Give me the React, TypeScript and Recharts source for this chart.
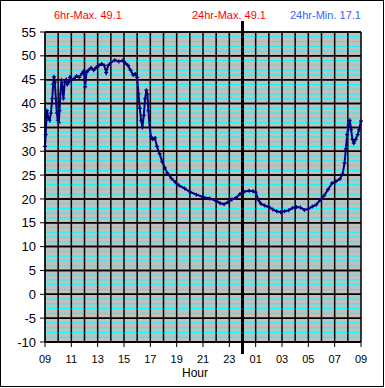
import { ComposedChart, Line, XAxis, YAxis, CartesianGrid, ReferenceLine } from 'recharts'

// hours since 09:00
const hours = [
  0, 0.05, 0.1, 0.15, 0.25, 0.35, 0.45, 0.55, 0.62, 0.68, 0.75, 0.82, 0.9, 0.97, 1.05, 1.1, 1.17, 1.25, 1.32, 1.4,
  1.5, 1.6, 1.7, 1.8, 1.9, 2.0, 2.2, 2.4, 2.6, 2.8, 2.95, 3.05, 3.15, 3.3, 3.5, 3.7, 3.9, 4.1, 4.3, 4.5,
  4.65, 4.8, 5.0, 5.3, 5.6, 5.9, 6.1, 6.3, 6.5, 6.7, 6.85, 7.0, 7.1, 7.2, 7.3, 7.4, 7.5, 7.6, 7.7, 7.78,
  7.85, 7.95, 8.05, 8.2, 8.35, 8.5, 8.7, 8.9, 9.1, 9.3, 9.6, 9.9, 10.2, 10.6, 11.0, 11.5, 12.0, 12.5, 13.0, 13.3,
  13.6, 13.9, 14.2, 14.5, 14.8, 15.1, 15.5, 15.8, 16.0, 16.2, 16.4, 16.7, 17.0, 17.3, 17.6, 17.9, 18.2, 18.5, 18.8, 19.1,
  19.4, 19.7, 20.0, 20.3, 20.6, 20.9, 21.2, 21.5, 21.8, 22.1, 22.4, 22.6, 22.75, 22.85, 22.95, 23.05, 23.15, 23.25, 23.35, 23.45,
  23.6, 23.75, 23.85, 24.0,
]
const temps = [
  31.0, 33.5, 36.5, 38.5, 37.0, 36.5, 38.0, 41.0, 44.0, 45.6, 44.5, 41.0, 38.0, 36.5, 36.0, 38.5, 42.0, 45.0, 43.5, 41.0,
  44.5, 45.0, 44.0, 44.5, 45.5, 45.0, 45.2, 45.8, 45.5, 46.3, 46.8, 43.5, 46.6, 47.0, 47.5, 47.0, 47.6, 48.0, 48.3, 48.0,
  46.5, 48.0, 48.6, 49.1, 48.8, 49.0, 48.5, 48.0, 47.0, 46.0, 46.2, 45.5, 42.0, 39.0, 36.5, 35.0, 37.5, 41.0, 42.8, 42.0,
  38.5, 35.0, 33.0, 32.5, 32.8, 31.0, 29.5, 27.8, 26.5, 25.4, 24.3, 23.5, 22.8, 22.2, 21.5, 20.9, 20.4, 20.1, 19.6, 19.1,
  18.9, 19.3, 19.9, 20.2, 21.0, 21.5, 21.7, 21.6, 21.4, 19.8, 19.0, 18.6, 18.3, 17.8, 17.4, 17.2, 17.4, 17.6, 18.1, 18.3,
  18.2, 17.7, 17.9, 18.4, 18.8, 19.8, 20.7, 22.0, 23.3, 23.7, 24.2, 25.2, 27.5, 30.5, 33.5, 35.5, 36.5, 34.5, 32.5, 31.7,
  32.5, 33.5, 34.5, 36.3,
]

const yTicks = [-10, -5, 0, 5, 10, 15, 20, 25, 30, 35, 40, 45, 50, 55]
const xTicks = [0, 2, 4, 6, 8, 10, 12, 14, 16, 18, 20, 22, 24]
const hourLines = Array.from({ length: 25 }, (_, i) => i)
const minorLines = Array.from({ length: 66 }, (_, i) => i - 10).filter((v) => v % 5 !== 0)
const midnight = 15

const data = hours.map((h, i) => ({ h, t: temps[i] }))

const font = '"Liberation Sans", Arial, sans-serif'

const Cross = (props: any) => {
  const { cx, cy } = props
  if (cx == null || cy == null) return <g />
  return <path d={`M${cx - 2},${cy}h4M${cx},${cy - 2}v4`} stroke="#000080" strokeWidth={1.2} fill="none" />
}

export default function App() {
  return (
    <div style={{ position: 'absolute', left: 0, top: 0, width: 385, height: 388, background: '#fff', fontFamily: font }}>
      <ComposedChart width={385} height={388} data={data} margin={{ top: 32, right: 24, bottom: 16, left: 8 }}>
        <CartesianGrid vertical={false} fill="#c0c0c0" stroke="#000" strokeWidth={1.5} strokeOpacity={1} />
        {minorLines.map((v) => (
          <ReferenceLine key={'m' + v} y={v} stroke="#00ffff" strokeWidth={1} />
        ))}
        {hourLines.map((v) => (
          <ReferenceLine key={'h' + v} x={v} stroke="#000" strokeWidth={1.5} />
        ))}
        {yTicks.map((v) => (
          <ReferenceLine key={'y' + v} y={v} stroke="#000" strokeWidth={1.5} />
        ))}
        <XAxis
          dataKey="h"
          type="number"
          domain={[0, 24]}
          ticks={xTicks}
          height={30}
          tickSize={5}
          tickMargin={8}
          tick={{ fontSize: 11, fill: '#000', fontFamily: font }}
          axisLine={{ stroke: '#000' }}
          tickLine={{ stroke: '#000' }}
          tickFormatter={(h: number) => String((9 + h) % 24).padStart(2, '0')}
          interval={0}
        />
        <YAxis
          type="number"
          domain={[-10, 55]}
          ticks={yTicks}
          width={37}
          tickSize={5}
          tickMargin={4}
          tick={{ fontSize: 13, fill: '#000', fontFamily: font }}
          axisLine={{ stroke: '#000' }}
          tickLine={{ stroke: '#000' }}
          interval={0}
        />
        <Line
          type="linear"
          dataKey="t"
          stroke="#000080"
          strokeWidth={2}
          dot={<Cross />}
          isAnimationActive={false}
        />
        <ReferenceLine
          segment={[{ x: midnight, y: 57.3 }, { x: midnight, y: -12.5 }]}
          stroke="#000"
          strokeWidth={3}
          ifOverflow="visible"
        />
      </ComposedChart>
      <svg width={385} height={388} style={{ position: 'absolute', left: 0, top: 0, pointerEvents: 'none' }}>
        <text x={54} y={19} fontSize={11} fill="#ff0000" fontFamily={font}>6hr-Max. 49.1</text>
        <text x={192} y={19} fontSize={11} fill="#ff0000" fontFamily={font}>24hr-Max. 49.1</text>
        <text x={290} y={19} fontSize={11} fill="#3366ff" fontFamily={font}>24hr-Min. 17.1</text>
        <text x={195} y={377} fontSize={12} fill="#000" fontFamily={font} textAnchor="middle">Hour</text>
        <rect x={0.5} y={0.5} width={383} height={386} fill="none" stroke="#000" strokeWidth={1} />
      </svg>
    </div>
  )
}
